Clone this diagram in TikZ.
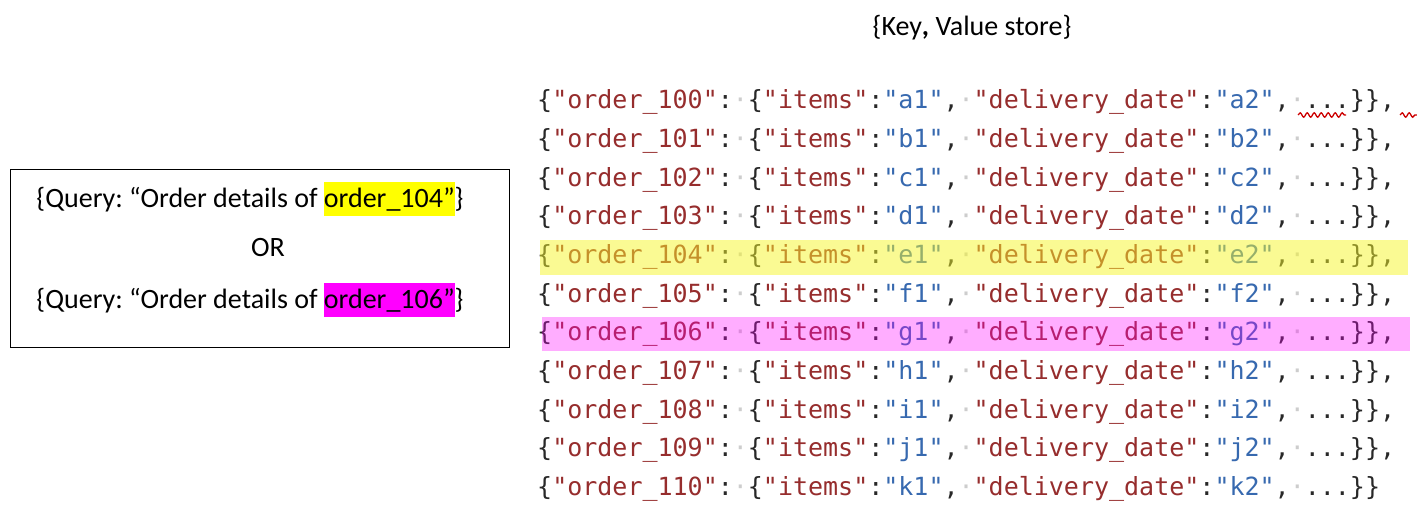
\documentclass[tikz,border=0pt]{standalone}
\usepackage{fontspec}
\setmainfont{Carlito}
\setmonofont{DejaVu Sans Mono}
\usetikzlibrary{decorations.pathmorphing}
\frenchspacing

\definecolor{keyc}{RGB}{150,45,45}
\definecolor{valc}{RGB}{55,105,175}
\definecolor{punc}{RGB}{40,40,40}
\definecolor{wsdot}{RGB}{205,205,205}
\definecolor{hlyellow}{RGB}{255,255,0}
\definecolor{hlmagenta}{RGB}{255,0,255}
\definecolor{rowyellow}{RGB}{245,245,40}

% one line of the store: #1 order number, #2 letter, #3 trailing text
\newcommand\kvrow[3]{{\color{punc}\{}{\color{keyc}"order\_#1"}{\color{punc}:}{\color{wsdot}·}{\color{punc}\{}{\color{keyc}"items"}{\color{punc}:}{\color{valc}"#21"}{\color{punc},}{\color{wsdot}·}{\color{keyc}"delivery\_date"}{\color{punc}:}{\color{valc}"#22"}{\color{punc},}{\color{wsdot}·}{\color{punc}...\}\}#3}}
\newcommand\hlword[2]{{\setlength\fboxsep{0pt}\colorbox{#1}{\rule[-0.27em]{0pt}{1.18em}#2}}}

\tikzset{
  codeline/.style={anchor=west, inner sep=0pt, font=\ttfamily\fontsize{25}{30}\selectfont},
  plaintext/.style={inner sep=0pt, font=\fontsize{28}{33}\selectfont},
  squiggle/.style={draw=red!80!black, line width=1.3pt, decorate,
    decoration={snake, amplitude=2.2pt, segment length=7pt}}
}

\begin{document}
\begin{tikzpicture}[x=1pt,y=-1pt]
\useasboundingbox (0,0) rectangle (1417,525);
%\draw[help lines, color=gray!30] (0,0) grid[step=50] (1417,525);

\node[plaintext] (title) at (972,28) {\{Key\textbf{,} Value store\}};

% the store
\foreach \n/\c [count=\i from 0] in {100/a,101/b,102/c,103/d,104/e,105/f,106/g,107/h,108/i,109/j}
  \node[codeline] (row\n) at (537,102+38.7*\i) {\kvrow{\n}{\c}{,}};
\node[codeline] (row110) at (537,489) {\kvrow{110}{k}{}};

% spell check marks on the first line
\draw[squiggle] (1298,115) -- (1346,115);
\draw[squiggle] (1400,115) -- (1417,115);

% highlighted lines
\fill[rowyellow, fill opacity=0.5] (540,240) rectangle (1408,275);
\fill[hlmagenta, fill opacity=0.32] (542,317) rectangle (1410,351);

% query box
\node[draw, line width=0.8pt, minimum width=499pt, minimum height=178pt, inner sep=0pt] (qbox) at (259.5,258) {};
\node[plaintext] (q104) at (250,199) {\{Query: “Order details of \hlword{hlyellow}{order\_104”}\}};
\node[plaintext] (qor) at (268,248) {OR};
\node[plaintext] (q106) at (250,300) {\{Query: “Order details of \hlword{hlmagenta}{order\_106”}\}};
\end{tikzpicture}
\end{document}
